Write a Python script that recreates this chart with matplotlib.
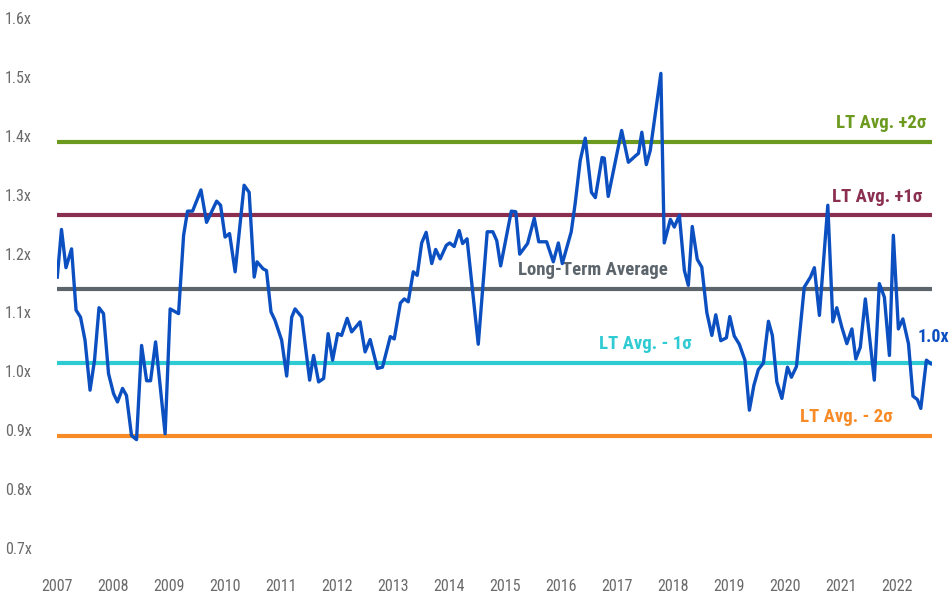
import matplotlib
matplotlib.use("Agg")
import matplotlib.pyplot as plt
from matplotlib import font_manager

# ---- data (decimal year, multiple) ----
years = [2007.005, 2007.08, 2007.16, 2007.26, 2007.34, 2007.42, 2007.50, 2007.59, 2007.67, 2007.75,
         2007.83, 2007.92, 2008.01, 2008.08, 2008.17, 2008.24, 2008.33, 2008.42, 2008.51, 2008.60,
         2008.67, 2008.76, 2008.93, 2009.02, 2009.17, 2009.26, 2009.33, 2009.42, 2009.57, 2009.67,
         2009.85, 2009.92, 2010.00, 2010.08, 2010.18, 2010.34, 2010.43, 2010.52, 2010.57, 2010.68,
         2010.74, 2010.82, 2010.89, 2011.01, 2011.10, 2011.19, 2011.25, 2011.37, 2011.51, 2011.58,
         2011.67, 2011.76, 2011.84, 2011.92, 2012.01, 2012.08, 2012.18, 2012.26, 2012.41, 2012.50,
         2012.59, 2012.72, 2012.81, 2012.95, 2013.02, 2013.13, 2013.20, 2013.27, 2013.36, 2013.43,
         2013.51, 2013.59, 2013.69, 2013.76, 2013.84, 2013.95, 2014.01, 2014.09, 2014.18, 2014.24,
         2014.32, 2014.52, 2014.68, 2014.78, 2014.85, 2014.92, 2015.11, 2015.19, 2015.26, 2015.40,
         2015.52, 2015.60, 2015.74, 2015.86, 2015.95, 2016.02, 2016.18, 2016.25, 2016.34, 2016.43,
         2016.54, 2016.61, 2016.73, 2016.77, 2016.84, 2016.96, 2017.08, 2017.20, 2017.34, 2017.38,
         2017.44, 2017.52, 2017.59, 2017.78, 2017.84, 2017.95, 2018.02, 2018.11, 2018.20, 2018.27,
         2018.34, 2018.43, 2018.51, 2018.60, 2018.69, 2018.76, 2018.85, 2018.95, 2019.01, 2019.09,
         2019.18, 2019.28, 2019.36, 2019.44, 2019.52, 2019.61, 2019.70, 2019.77, 2019.85, 2019.94,
         2020.04, 2020.11, 2020.20, 2020.34, 2020.45, 2020.52, 2020.61, 2020.76, 2020.85, 2020.92,
         2021.01, 2021.10, 2021.19, 2021.26, 2021.34, 2021.43, 2021.59, 2021.68, 2021.77, 2021.86,
         2021.93, 2022.02, 2022.10, 2022.20, 2022.28, 2022.36, 2022.42, 2022.52, 2022.60]
values = [1.160, 1.241, 1.176, 1.208, 1.104, 1.092, 1.053, 0.968, 1.019, 1.108,
          1.098, 0.996, 0.962, 0.948, 0.971, 0.959, 0.891, 0.884, 1.044, 0.984,
          0.984, 1.050, 0.894, 1.106, 1.098, 1.231, 1.272, 1.272, 1.308, 1.253,
          1.289, 1.282, 1.228, 1.234, 1.169, 1.316, 1.304, 1.160, 1.186, 1.174,
          1.171, 1.101, 1.087, 1.053, 0.992, 1.092, 1.106, 1.092, 0.985, 1.027,
          0.982, 0.988, 1.064, 1.019, 1.064, 1.061, 1.090, 1.067, 1.084, 1.033,
          1.054, 1.005, 1.007, 1.059, 1.055, 1.116, 1.123, 1.118, 1.169, 1.163,
          1.218, 1.236, 1.183, 1.207, 1.191, 1.214, 1.218, 1.212, 1.239, 1.217,
          1.225, 1.046, 1.237, 1.237, 1.222, 1.179, 1.272, 1.271, 1.199, 1.217,
          1.260, 1.220, 1.220, 1.186, 1.218, 1.183, 1.237, 1.285, 1.358, 1.396,
          1.304, 1.295, 1.363, 1.362, 1.297, 1.353, 1.409, 1.355, 1.367, 1.370,
          1.406, 1.351, 1.375, 1.506, 1.218, 1.258, 1.245, 1.265, 1.171, 1.146,
          1.246, 1.190, 1.177, 1.100, 1.061, 1.096, 1.052, 1.057, 1.093, 1.060,
          1.046, 1.019, 0.934, 0.976, 1.003, 1.014, 1.085, 1.061, 0.982, 0.954,
          1.007, 0.990, 1.008, 1.143, 1.160, 1.176, 1.095, 1.282, 1.084, 1.108,
          1.075, 1.047, 1.072, 1.021, 1.041, 1.123, 0.985, 1.149, 1.126, 1.027,
          1.231, 1.072, 1.089, 1.047, 0.958, 0.952, 0.937, 1.019, 1.013]

ref_levels = [1.390, 1.265, 1.140, 1.015, 0.890]
ref_labels = ["LT Avg. +2σ", "LT Avg. +1σ", "Long-Term Average", "LT Avg. - 1σ", "LT Avg. - 2σ"]
ref_label_x = [2021.72, 2021.65, 2016.57, 2017.5, 2021.1]
ref_colors = ["#6c9a1f", "#8a2f50", "#5c656c", "#2fcbd3", "#f78b28"]

y_ticks = [0.7, 0.8, 0.9, 1.0, 1.1, 1.2, 1.3, 1.4, 1.5, 1.6]
x_ticks = list(range(2007, 2023))
end_label = "1.0x"

# ---- fonts ----
avail = {f.name for f in font_manager.fontManager.ttflist}
fam = [f for f in ["Liberation Sans Narrow", "Roboto Condensed", "Roboto", "DejaVu Sans"] if f in avail]
plt.rcParams['font.family'] = fam

fig = plt.figure(figsize=(9.51, 5.92), dpi=100)
ax = fig.add_axes([57/951, 1-548/592, (932-57)/951, (548-18)/592])

for lvl, lab, lx, col in zip(ref_levels, ref_labels, ref_label_x, ref_colors):
    ax.axhline(lvl, color=col, lw=3.0, zorder=1)
    ax.annotate(lab, xy=(lx, lvl), xytext=(0, 7), textcoords="offset points",
                ha="center", va="bottom", color=col, fontsize=13.5, fontweight="bold")

ax.plot(years, values, color="#0b4fc1", lw=2.4, zorder=3, solid_joinstyle="round")
ax.annotate(end_label, xy=(years[-1], values[-1]), xytext=(949/951, 1-337/592),
            textcoords="figure fraction", ha="right", va="center", color="#0b4fc1",
            fontsize=13, fontweight="bold", annotation_clip=False)

ax.set_xlim(2007.0, 2022.62)
ax.set_ylim(0.7, 1.6)
ax.set_yticks(y_ticks)
ax.set_yticklabels([f"{t:.1f}x" for t in y_ticks])
ax.set_xticks(x_ticks)
ax.set_xticklabels([str(t) for t in x_ticks])
ax.tick_params(axis="both", length=0, colors="#6a6a6a", labelsize=11.5)
ax.tick_params(axis="x", pad=22)
ax.tick_params(axis="y", pad=18)
for s in ax.spines.values():
    s.set_visible(False)
ax.set_facecolor("white")

fig.savefig("out.png", dpi=100, facecolor="white")
